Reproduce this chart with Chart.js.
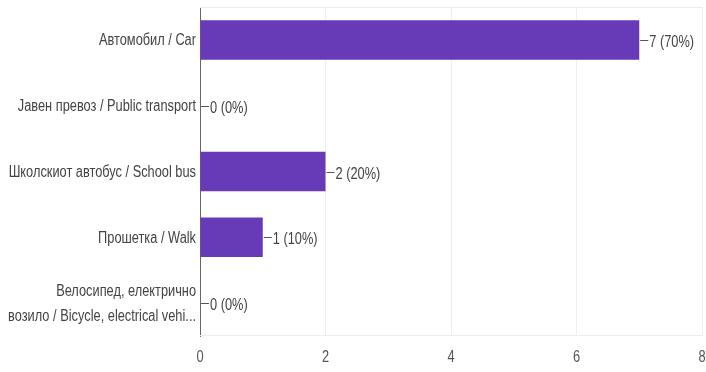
<!DOCTYPE html>
<html><head><meta charset="utf-8">
<script src="https://cdn.jsdelivr.net/npm/chart.js@4/dist/chart.umd.min.js"></script>
<style>html,body{margin:0;padding:0;background:#fff}#w{width:706px;height:372px}</style>
</head><body><div id="w"><canvas id="c"></canvas></div>
<script>
const categories = [
  "Автомобил / Car",
  "Јавен превоз / Public transport",
  "Школскиот автобус / School bus",
  "Прошетка / Walk",
  ["Велосипед, електрично", "возило / Bicycle, electrical vehi..."]
];
const counts = [7, 0, 2, 1, 0];
const percents = ["70%", "0%", "20%", "10%", "0%"];
const xTicks = [0, 2, 4, 6, 8];

const FONT = "'Liberation Sans', Arial, sans-serif";
const SX = 0.8; // horizontal squeeze of the reference text

function squeezedText(ctx, text, x, y, align) {
  const w = ctx.measureText(text).width * SX;
  let left = x;
  if (align === 'right') left = x - w;
  else if (align === 'center') left = x - w / 2;
  ctx.save();
  ctx.translate(left, y);
  ctx.scale(SX, 1);
  ctx.textAlign = 'left';
  ctx.fillText(text, 0, 0);
  ctx.restore();
}

const textPlugin = {
  id: 'textPlugin',
  beforeDatasetsDraw(chart) {
    const {ctx, chartArea: a} = chart;
    ctx.save();
    ctx.strokeStyle = '#ececec';
    ctx.lineWidth = 1;
    ctx.beginPath();
    ctx.moveTo(a.left, a.top + 0.5); ctx.lineTo(a.right, a.top + 0.5);
    ctx.moveTo(a.left, a.bottom - 0.5); ctx.lineTo(a.right, a.bottom - 0.5);
    ctx.stroke();
    ctx.restore();
  },
  afterDatasetsDraw(chart) {
    const {ctx, chartArea: a} = chart;
    const xs = chart.scales.x, ys = chart.scales.y;
    const meta = chart.getDatasetMeta(0);
    ctx.save();
    ctx.textBaseline = 'middle';
    // category labels
    ctx.font = "16px " + FONT;
    ctx.fillStyle = '#444';
    categories.forEach((lab, i) => {
      const y = ys.getPixelForValue(i) + 1;
      const lines = Array.isArray(lab) ? lab : [lab];
      const lh = 25;
      lines.forEach((ln, j) => {
        const yy = y + (j - (lines.length - 1) / 2) * lh;
        squeezedText(ctx, ln, a.left - 4, yy, 'right');
      });
    });
    // x tick labels
    ctx.fillStyle = '#555';
    xTicks.forEach(v => {
      squeezedText(ctx, String(v), xs.getPixelForValue(v), a.bottom + 22, 'center');
    });
    // data labels with leader lines
    ctx.strokeStyle = '#555';
    ctx.lineWidth = 1;
    ctx.fillStyle = '#444';
    meta.data.forEach((el, i) => {
      const x = el.x + 1, y = Math.round(el.y) + 0.5;
      ctx.beginPath(); ctx.moveTo(x, y); ctx.lineTo(x + 8, y); ctx.stroke();
      squeezedText(ctx, counts[i] + " (" + percents[i] + ")", x + 9, y + 2, 'left');
    });
    ctx.restore();
  }
};

new Chart(document.getElementById('c'), {
  type: 'bar',
  data: {
    labels: categories,
    datasets: [{
      data: counts,
      backgroundColor: '#673ab7',
      borderWidth: 0,
      categoryPercentage: 1,
      barPercentage: 0.6
    }]
  },
  options: {
    indexAxis: 'y',
    responsive: true,
    maintainAspectRatio: false,
    animation: false,
    layout: {padding: {top: 7, right: 4, left: 0, bottom: 0}},
    plugins: {legend: {display: false}, tooltip: {enabled: false}},
    scales: {
      x: {
        min: 0, max: 8,
        afterBuildTicks(s) { s.ticks = xTicks.map(v => ({value: v})); },
        ticks: {display: false},
        grid: {color: '#eeeeee', drawTicks: false},
        border: {display: false},
        afterFit(s) { s.height = 36; }
      },
      y: {
        ticks: {display: false},
        grid: {display: false},
        border: {display: true, color: '#666', width: 1},
        afterFit(s) { s.width = 200; }
      }
    }
  },
  plugins: [textPlugin]
});
</script></body></html>
